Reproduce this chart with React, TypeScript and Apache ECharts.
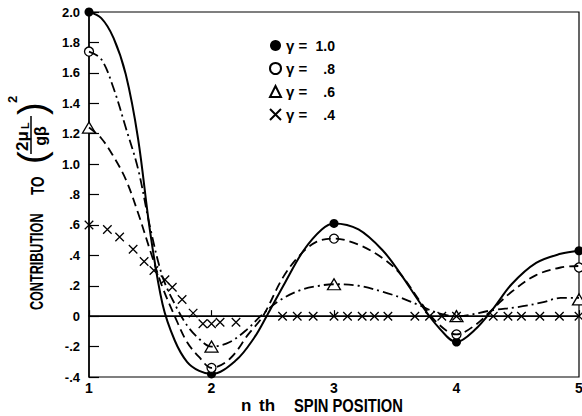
import React, { useEffect, useRef } from 'react';
import * as echarts from 'echarts';

// n-th spin position ticks
const xTicks = [1, 2, 3, 4, 5];
const legendValues = ['1.0', '.8', '.6', '.4'];

// solid curve (gamma = 1.0)
const solidCurve: [number, number][] = [
  [1.0, 2.0], [1.1, 1.96], [1.2, 1.83], [1.3, 1.59], [1.4, 1.17], [1.5, 0.55], [1.6, 0.08],
  [1.7, -0.16], [1.8, -0.3], [1.9, -0.36], [2.0, -0.38], [2.2, -0.29], [2.35, -0.14], [2.45, 0.0],
  [2.6, 0.22], [2.75, 0.43], [2.9, 0.57], [3.0, 0.61], [3.2, 0.57], [3.4, 0.43], [3.55, 0.27],
  [3.7, 0.09], [3.85, -0.07], [4.0, -0.17], [4.15, -0.09], [4.3, 0.05], [4.45, 0.21], [4.65, 0.35],
  [4.85, 0.41], [5.0, 0.43],
];

// dashed curve
const dashedCurve: [number, number][] = [
  [1.0, 1.24], [1.1, 1.17], [1.2, 1.05], [1.3, 0.9], [1.4, 0.68], [1.5, 0.43], [1.6, 0.19],
  [1.7, 0.0], [1.8, -0.17], [1.9, -0.27], [2.0, -0.34], [2.15, -0.28], [2.3, -0.12], [2.42, 0.0],
  [2.58, 0.25], [2.72, 0.4], [2.86, 0.49], [3.0, 0.51], [3.2, 0.47], [3.4, 0.38], [3.55, 0.27],
  [3.7, 0.1], [3.85, -0.05], [4.0, -0.12], [4.15, -0.06], [4.3, 0.05], [4.45, 0.16], [4.65, 0.27],
  [4.85, 0.32], [5.0, 0.33],
];

// dash-dot curve
const dashDotCurve: [number, number][] = [
  [1.0, 1.74], [1.1, 1.69], [1.2, 1.5], [1.3, 1.24], [1.4, 0.97], [1.5, 0.58], [1.6, 0.26],
  [1.7, 0.08], [1.8, -0.06], [1.9, -0.15], [2.0, -0.2], [2.15, -0.17], [2.3, -0.08], [2.4, 0.0],
  [2.55, 0.1], [2.72, 0.17], [2.88, 0.2], [3.0, 0.21], [3.2, 0.2], [3.4, 0.16], [3.55, 0.12],
  [3.7, 0.07], [3.85, 0.02], [4.0, 0.0], [4.3, 0.04], [4.5, 0.06], [4.7, 0.09], [4.85, 0.12],
  [5.0, 0.12],
];

// markers
const filledDots: [number, number][] = [[1, 2.0], [2, -0.38], [3, 0.61], [4, -0.17], [5, 0.43]];
const openCircles: [number, number][] = [[1, 1.74], [2, -0.34], [3, 0.51], [4, -0.12], [5, 0.32]];
const triangles: [number, number][] = [[1, 1.24], [2, -0.2], [3, 0.21], [4, 0.0], [5, 0.11]];
const crosses: [number, number][] = [
  [1, 0.6], [1.15, 0.57], [1.25, 0.52], [1.36, 0.44], [1.45, 0.36], [1.53, 0.3], [1.62, 0.24],
  [1.68, 0.19], [1.76, 0.11], [1.85, 0.02], [1.93, -0.05], [2.0, -0.05], [2.07, -0.04], [2.2, -0.04],
  [2.58, 0], [2.7, 0], [2.83, 0], [3.0, 0], [3.11, 0], [3.23, 0], [3.33, 0], [3.44, 0], [3.66, 0],
  [3.78, 0], [3.88, 0], [4.0, 0], [4.3, 0], [4.42, 0], [4.53, 0], [4.68, 0], [4.84, 0], [5.0, 0],
];

export default function App() {
  const ref = useRef<HTMLDivElement>(null);
  useEffect(() => {
    if (!ref.current) return;
    const chart = echarts.init(ref.current, null, { renderer: 'svg' });
    const font = '"Liberation Sans", Arial, sans-serif';
    const yFmt = (v: number) => {
      if (Math.abs(v) < 1e-9) return '0';
      const s = v.toFixed(1);
      if (Math.abs(v) < 1) return s.replace('0.', '.');
      return s;
    };
    const txt = (text: string, size: number, weight = 'bold', align = 'left') => ({
      text,
      font: `${weight} ${size}px ${font}`,
      fill: '#000',
      align,
      verticalAlign: 'middle',
      textAlign: align,
    });
    const option: any = {
      animation: false,
      backgroundColor: '#fff',
      grid: {
        left: 89, right: 3, top: 12, bottom: 39, show: true,
        containLabel: false, outerBoundsMode: 'none',
        borderColor: '#000', borderWidth: 1.2, backgroundColor: 'transparent',
      },
      xAxis: {
        type: 'value', min: xTicks[0], max: xTicks[xTicks.length - 1], interval: 1,
        axisLine: { lineStyle: { color: '#000', width: 1.5 } },
        axisTick: { inside: true, length: 6, lineStyle: { color: '#000', width: 1.2 } },
        axisLabel: { color: '#000', fontWeight: 'bold', fontSize: 14, fontFamily: font, margin: 4 },
        splitLine: { show: false },
      },
      yAxis: {
        type: 'value', min: -0.4, max: 2.0, interval: 0.2,
        axisLine: { lineStyle: { color: '#000', width: 1.5 } },
        axisTick: { inside: true, length: 10, lineStyle: { color: '#000', width: 1.2 } },
        axisLabel: { color: '#000', fontWeight: 'bold', fontSize: 13, fontFamily: font, margin: 9, formatter: yFmt },
        splitLine: { show: false },
      },
      legend: {
        data: legendValues,
        orient: 'vertical', left: 264, top: 33, itemGap: 8, itemWidth: 11, itemHeight: 11,
        selectedMode: false,
        formatter: (name: string) => `{g|γ =}{v|${name}}`,
        textStyle: {
          color: '#000', fontFamily: font,
          rich: {
            g: { fontSize: 15, fontWeight: 'bold', width: 26, fontFamily: font, color: '#000' },
            v: { fontSize: 14, fontWeight: 'bold', width: 23, align: 'right', fontFamily: font, color: '#000' },
          },
        },
      },
      series: [
        {
          type: 'line', name: 'solid', data: solidCurve, smooth: 0.35, showSymbol: false, symbol: 'none',
          lineStyle: { color: '#000', width: 2, type: 'solid' },
          markLine: {
            silent: true, symbol: ['none', 'none'], label: { show: false },
            lineStyle: { color: '#000', width: 1.2, type: 'solid' },
            data: [{ yAxis: 0 }],
          },
        },
        {
          type: 'line', name: 'dashed', data: dashedCurve, smooth: 0.35, showSymbol: false, symbol: 'none',
          lineStyle: { color: '#000', width: 1.8, type: [9, 5] },
        },
        {
          type: 'line', name: 'dashdot', data: dashDotCurve, smooth: 0.35, showSymbol: false, symbol: 'none',
          lineStyle: { color: '#000', width: 1.8, type: [10, 4, 2, 4] },
        },
        {
          type: 'scatter', name: legendValues[0], data: filledDots, symbol: 'circle', symbolSize: 9,
          itemStyle: { color: '#000', opacity: 1 },
        },
        {
          type: 'scatter', name: legendValues[1], data: openCircles, symbol: 'circle', symbolSize: 9,
          itemStyle: { color: '#fff', borderColor: '#000', borderWidth: 1.3, opacity: 1 },
        },
        {
          type: 'scatter', name: legendValues[2], data: triangles, symbol: 'triangle', symbolSize: [13, 11],
          itemStyle: { color: '#fff', borderColor: '#000', borderWidth: 1.3, opacity: 1 },
        },
        {
          type: 'scatter', name: legendValues[3], data: crosses, symbol: 'path://M0 0L10 10M10 0L0 10', symbolSize: 8.5,
          itemStyle: { color: '#000', borderColor: '#000', borderWidth: 1.3, opacity: 1 },
        },
      ],
      graphic: [
        { type: 'text', x: 241, y: 405, style: txt('n', 17) },
        { type: 'text', x: 259, y: 405, style: txt('th', 17) },
        { type: 'text', x: 294, y: 405, scaleX: 0.82, style: txt('SPIN POSITION', 18) },
        {
          type: 'group', x: 37, y: 310, rotation: Math.PI / 2,
          children: [
            { type: 'text', x: 0, y: 0, scaleX: 0.7, style: txt('CONTRIBUTION', 18) },
            { type: 'text', x: 115, y: 1, scaleX: 0.75, style: txt('TO', 18) },
            { type: 'text', x: 146, y: -5, style: txt('(', 38, 'normal') },
            { type: 'text', x: 169, y: -15, style: txt('2μ', 17, 'bold', 'center') },
            { type: 'text', x: 181, y: -12, style: txt('L', 11) },
            { type: 'line', shape: { x1: 156, y1: -6, x2: 194, y2: -6 }, style: { stroke: '#000', lineWidth: 1.5 } },
            { type: 'text', x: 174, y: 3, style: txt('gβ', 16, 'bold', 'center') },
            { type: 'text', x: 195, y: -5, style: txt(')', 38, 'normal') },
            { type: 'text', x: 207, y: -25, style: txt('2', 13) },
          ],
        },
      ],
    };
    chart.setOption(option);
    return () => chart.dispose();
  }, []);
  return <div ref={ref} style={{ position: 'fixed', left: 0, top: 0, width: 582, height: 416 }} />;
}
